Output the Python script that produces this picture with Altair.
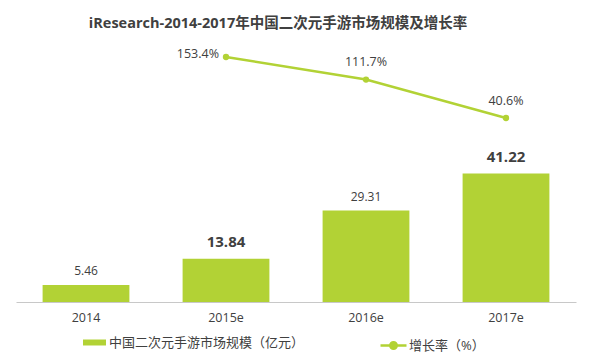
import altair as alt
import pandas as pd

years = ["2014", "2015e", "2016e", "2017e"]
market_size = [5.46, 13.84, 29.31, 41.22]
size_labels = ["5.46", "13.84", "29.31", "41.22"]
bold_years = ["2015e", "2017e"]

rate_years = ["2015e", "2016e", "2017e"]
growth_rate = [153.4, 111.7, 40.6]
rate_labels = ["153.4%", "111.7%", "40.6%"]

bar_name = "中国二次元手游市场规模（亿元）"
line_name = "增长率（%）"
title_text = "iResearch-2014-2017年中国二次元手游市场规模及增长率"

GREEN = "#b2d235"
TEXT = "#404040"
FONT = "Open Sans, Noto Sans CJK SC"

bars_df = pd.DataFrame({"year": years, "size": market_size,
                        "label": size_labels, "series": [bar_name] * len(years)})
rate_df = pd.DataFrame({"year": rate_years, "rate": growth_rate,
                        "label": rate_labels, "series": [line_name] * len(rate_years)})

x = alt.X("year:N", sort=years,
          scale=alt.Scale(domain=years, paddingInner=0.38, paddingOuter=0.19),
          axis=alt.Axis(title=None, labelAngle=0, ticks=False, grid=False,
                        domainColor="#c8c8c8", domainWidth=1,
                        labelColor=TEXT, labelFont=FONT, labelFontSize=12.5,
                        labelPadding=9))
y_bar = alt.Y("size:Q", scale=alt.Scale(domain=[0, 84], nice=False, zero=False), axis=None)
y_rate = alt.Y("rate:Q", scale=alt.Scale(domain=[-299.4, 184.8], nice=False, zero=False), axis=None)

bar_base = alt.Chart(bars_df)
bars = bar_base.mark_bar().encode(
    x=x, y=y_bar,
    fill=alt.Fill("series:N", scale=alt.Scale(range=[GREEN]),
                  legend=alt.Legend(title=None, orient="none", legendX=67, legendY=291,
                                    symbolType="M-1,-0.26L1,-0.26L1,0.26L-1,0.26Z",
                                    symbolSize=529, symbolStrokeWidth=0,
                                    labelFont=FONT, labelFontSize=13, labelColor=TEXT,
                                    labelOffset=3, labelLimit=400, padding=0)),
)
bar_text_reg = bar_base.mark_text(font=FONT, fontSize=12, color=TEXT, baseline="alphabetic", dy=-10).encode(
    x=x, y=y_bar, text="label:N"
).transform_filter(~alt.FieldOneOfPredicate(field="year", oneOf=bold_years))
bar_text_bold = bar_base.mark_text(font=FONT, fontSize=15, fontWeight="bold", color=TEXT,
                                   baseline="alphabetic", dy=-11.5).encode(
    x=x, y=y_bar, text="label:N"
).transform_filter(alt.FieldOneOfPredicate(field="year", oneOf=bold_years))

rate_base = alt.Chart(rate_df)
line = rate_base.mark_line(strokeWidth=2.5).encode(
    x=x, y=y_rate,
    stroke=alt.Stroke("series:N", scale=alt.Scale(range=[GREEN]),
                      legend=alt.Legend(title=None, orient="none", legendX=363, legendY=291,
                                        symbolType="M-1,0L1,0M0.25,0A0.25,0.25,0,1,1,-0.25,0A0.25,0.25,0,1,1,0.25,0",
                                        symbolSize=676, symbolStrokeWidth=2.5,
                                        symbolFillColor=GREEN, symbolStrokeColor=GREEN,
                                        labelFont=FONT, labelFontSize=13, labelColor=TEXT,
                                        labelOffset=1, labelLimit=400, padding=0)),
)
points = rate_base.mark_circle(size=40, color=GREEN, opacity=1).encode(x=x, y=y_rate)
rate_text_first = rate_base.mark_text(font=FONT, fontSize=12.5, color=TEXT, baseline="alphabetic",
                                      align="right", dx=-7, dy=1).encode(
    x=x, y=y_rate, text="label:N"
).transform_filter(alt.datum.year == rate_years[0])
rate_text_rest = rate_base.mark_text(font=FONT, fontSize=12.5, color=TEXT, baseline="alphabetic",
                                     dy=-13.5).encode(
    x=x, y=y_rate, text="label:N"
).transform_filter(alt.datum.year != rate_years[0])

chart = alt.layer(
    alt.layer(bars, bar_text_reg, bar_text_bold),
    alt.layer(line, points, rate_text_first, rate_text_rest),
).resolve_scale(y="independent").properties(
    width=560, height=262,
    autosize=alt.AutoSizeParams(type="none"),
    padding={"left": 16, "top": 40, "right": 24, "bottom": 50},
    title=alt.TitleParams(text=title_text, font=FONT, fontSize=14.5, fontWeight="bold",
                          color=TEXT, anchor="middle", dx=-18, dy=17, offset=15,
                          baseline="alphabetic"),
).configure_view(stroke=None)

chart.save("out.html", embed_options={"renderer": "svg", "actions": False})
